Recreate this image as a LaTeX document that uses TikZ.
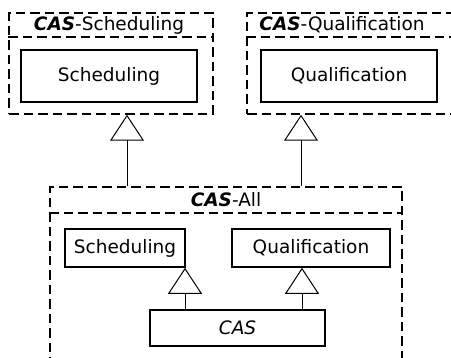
\documentclass[tikz,border=0pt]{standalone}
\usepackage{fontspec}
\setmainfont{DejaVu Sans}
\usetikzlibrary{arrows.meta}
\usetikzlibrary{positioning}

\begin{document}
\begin{tikzpicture}[x=1pt,y=-1pt,
    font=\fontsize{18.5}{21}\selectfont,
    cls/.style={draw,line width=1.6pt,inner sep=0pt},
    pkg/.style={draw,dash pattern=on 9.5pt off 5pt,line width=1.5pt,inner sep=0pt},
    gen/.style={-{Triangle[open,length=26pt,width=34pt]},line width=1pt}]
  \useasboundingbox (0,0) rectangle (451,358);
  \clip (0,0) rectangle (451,358);
  % packages
  \node[pkg,minimum width=204pt,minimum height=101pt] (pkgSched) at (111,63.5) {};
  \node[pkg,minimum width=206pt,minimum height=101pt] (pkgQual) at (350,63.5) {};
  \node[pkg,minimum width=352pt,minimum height=213pt] (casAll) at (226,293.5) {};
  \draw[pkg] (pkgSched.west |- 0,37) -- (pkgSched.east |- 0,37);
  \draw[pkg] (pkgQual.west |- 0,37) -- (pkgQual.east |- 0,37);
  \draw[pkg] (casAll.west |- 0,213) -- (casAll.east |- 0,213);
  \node (tSched) at (109,25) {\textbf{\textit{CAS}}-Scheduling};
  \node (tQual) at (342,25) {\textbf{\textit{CAS}}-Qualification};
  \node (tAll) at (226,200) {\textbf{\textit{CAS}}-All};
  % classes
  \node[cls,minimum width=176pt,minimum height=52pt] (schedTop) at (109,76) {Scheduling};
  \node[cls,minimum width=176pt,minimum height=52pt] (qualTop) at (349,76) {Qualification};
  \node[cls,minimum width=120pt,minimum height=38pt] (schedIn) at (125,248) {Scheduling};
  \node[cls,minimum width=158pt,minimum height=38pt] (qualIn) at (311,248) {Qualification};
  \node[cls,minimum width=175pt,minimum height=36pt] (cas) at (237.5,328) {\textit{CAS}};
  % generalizations
  \foreach \x/\from/\to in {127/casAll/pkgSched, 301/casAll/pkgQual,
                            185/cas/schedIn, 302/cas/qualIn}
    \draw[gen] (\x,0 |- \from.north) -- (\x,0 |- \to.south);
\end{tikzpicture}
\end{document}
